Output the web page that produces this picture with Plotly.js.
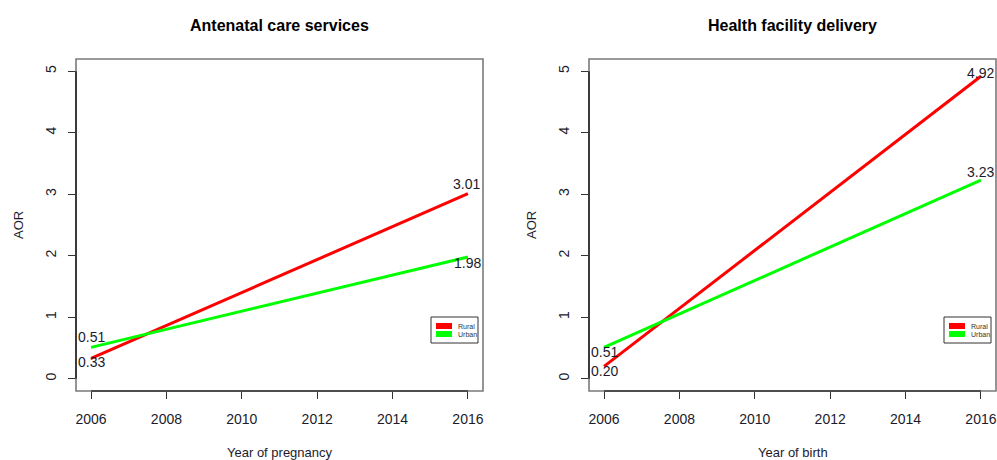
<!DOCTYPE html>
<html>
<head>
<meta charset="utf-8">
<script src="https://cdn.plot.ly/plotly-3.0.1.min.js"></script>
<style>html,body{margin:0;padding:0;background:#fff;}#chart{width:997px;height:460px;}</style>
</head>
<body>
<div id="chart"></div>
<script>
// ---- data ----
const years = [2006, 2016];
const ancRural = [0.33, 3.01];
const ancUrban = [0.51, 1.98];
const fdRural = [0.20, 4.92];
const fdUrban = [0.51, 3.23];
const xTicks = [2006, 2008, 2010, 2012, 2014, 2016];
const yTicks = [0, 1, 2, 3, 4, 5];
const titles = ["Antenatal care services", "Health facility delivery"];
const xTitles = ["Year of pregnancy", "Year of birth"];
const yTitle = "AOR";
const seriesNames = ["Rural", "Urban"];

// ---- styling ----
const W = 997, H = 460;
const RED = "#FF0000", GREEN = "#00FF00";
const colors = [RED, GREEN];
const FONT = "Liberation Sans, Arial, sans-serif";
const TXT = "#1b1b2b";
const px = v => v / W;
const py = v => 1 - v / H;

function mkTrace(y, name, color, xa, ya) {
  return {x: years, y: y, name: name, type: "scatter", mode: "lines",
    line: {color: color, width: 3}, xaxis: xa, yaxis: ya, showlegend: false,
    hoverinfo: "skip"};
}
const traces = [
  mkTrace(ancRural, seriesNames[0], RED, "x", "y"),
  mkTrace(ancUrban, seriesNames[1], GREEN, "x", "y"),
  mkTrace(fdRural, seriesNames[0], RED, "x2", "y2"),
  mkTrace(fdUrban, seriesNames[1], GREEN, "x2", "y2")
];

function xax(domain, anchor) {
  return {domain: domain, anchor: anchor, range: [2005.6, 2016.4], tickvals: xTicks,
    ticktext: xTicks.map(String), ticks: "outside", ticklen: 7, tickcolor: "#333", tickwidth: 1,
    showline: false, showgrid: false, zeroline: false, ticklabelstandoff: 8,
    tickfont: {family: FONT, size: 14, color: TXT}, fixedrange: true};
}
function yax(anchor) {
  return {domain: [py(391), py(59)], anchor: anchor, range: [-0.2, 5.2], tickvals: yTicks,
    ticktext: yTicks.map(String), ticks: "outside", ticklen: 7, tickcolor: "#333", tickwidth: 1,
    tickangle: -90, showline: false, showgrid: false, zeroline: false, ticklabelstandoff: 6,
    tickfont: {family: FONT, size: 14, color: TXT}, fixedrange: true};
}

const shapes = [];
[["x", "y"], ["x2", "y2"]].forEach(([xa, ya]) => {
  shapes.push({type: "rect", xref: xa + " domain", yref: ya + " domain", x0: 0, x1: 1, y0: 0, y1: 1,
    line: {color: "#7a7a7a", width: 1.6}, layer: "above"});
  shapes.push({type: "line", xref: xa + " domain", yref: ya, x0: 0, x1: 0,
    y0: Math.min(...yTicks), y1: Math.max(...yTicks), line: {color: "#000", width: 1.2}, layer: "above"});
  shapes.push({type: "line", xref: xa, yref: ya + " domain", y0: 0, y1: 0,
    x0: Math.min(...xTicks), x1: Math.max(...xTicks), line: {color: "#000", width: 1.2}, layer: "above"});
});

function valLabel(x, y, xa, ya, shift, xshift) {
  return {x: x, y: y, xref: xa, yref: ya, text: y.toFixed(2), showarrow: false,
    font: {family: FONT, size: 14, color: TXT}, xanchor: "center", yanchor: "middle",
    yshift: shift, xshift: xshift || 0};
}
const annotations = [
  valLabel(years[0], ancRural[0], "x", "y", -4),
  valLabel(years[1], ancRural[1], "x", "y", 10, -1),
  valLabel(years[0], ancUrban[0], "x", "y", 10),
  valLabel(years[1], ancUrban[1], "x", "y", -6),
  valLabel(years[0], fdRural[0], "x2", "y2", -5),
  valLabel(years[1], fdRural[1], "x2", "y2", 3),
  valLabel(years[0], fdUrban[0], "x2", "y2", -5),
  valLabel(years[1], fdUrban[1], "x2", "y2", 8)
];
const centers = [(76 + 483) / 2, (589 + 996) / 2];
const yAxisTitleX = [19, 532];
const legendLeft = [431, 944];
for (let i = 0; i < 2; i++) {
  annotations.push({x: px(centers[i]), y: py(25), xref: "paper", yref: "paper", text: "<b>" + titles[i] + "</b>",
    showarrow: false, font: {family: FONT, size: 16, color: "#000"}, xanchor: "center", yanchor: "middle"});
  annotations.push({x: px(centers[i]), y: py(452), xref: "paper", yref: "paper", text: xTitles[i],
    showarrow: false, font: {family: FONT, size: 13, color: TXT}, xanchor: "center", yanchor: "middle"});
  annotations.push({x: px(yAxisTitleX[i]), y: py(225), xref: "paper", yref: "paper", text: yTitle,
    showarrow: false, textangle: -90, font: {family: FONT, size: 13, color: TXT}, xanchor: "center", yanchor: "middle"});
  // legend (R-style small box)
  const L = legendLeft[i];
  shapes.push({type: "rect", xref: "paper", yref: "paper", x0: px(L), x1: px(L + 47), y0: py(317), y1: py(343),
    line: {color: "#333", width: 1}, fillcolor: "#fff", layer: "above"});
  seriesNames.forEach((nm, k) => {
    const yy = 326 + k * 8;
    shapes.push({type: "line", xref: "paper", yref: "paper", x0: px(L + 5), x1: px(L + 21), y0: py(yy), y1: py(yy),
      line: {color: colors[k], width: 6}, layer: "above"});
    annotations.push({x: px(L + 25), y: py(yy + 0.5), xref: "paper", yref: "paper", text: nm, showarrow: false,
      font: {family: FONT, size: 7, color: "#333"}, xanchor: "left", yanchor: "middle"});
  });
}

const layout = {
  width: W, height: H, margin: {l: 0, r: 0, t: 0, b: 0},
  paper_bgcolor: "#fff", plot_bgcolor: "#fff",
  xaxis: xax([px(76), px(483)], "y"),
  yaxis: yax("x"),
  xaxis2: xax([px(589), px(996)], "y2"),
  yaxis2: yax("x2"),
  shapes: shapes,
  annotations: annotations
};
Plotly.newPlot("chart", traces, layout, {displayModeBar: false, staticPlot: true});
</script>
</body>
</html>
